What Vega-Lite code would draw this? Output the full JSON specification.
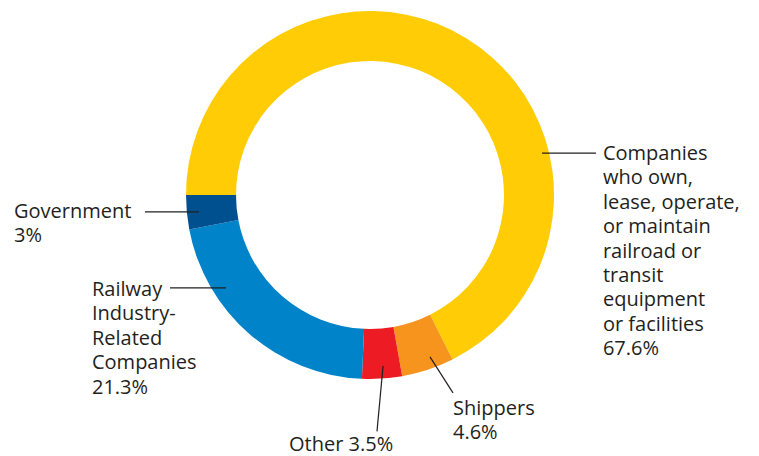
{
  "$schema": "https://vega.github.io/schema/vega-lite/v6.json",
  "width": 740,
  "height": 390,
  "autosize": {"type": "none"},
  "padding": {"left": 0, "top": 0, "right": 19, "bottom": 66},
  "background": "white",
  "config": {"view": {"stroke": null}},
  "datasets": {
    "slices": [
      {"category": "Companies who own, lease, operate, or maintain railroad or transit equipment or facilities", "share": 67.6, "order": 1},
      {"category": "Shippers", "share": 4.6, "order": 2},
      {"category": "Other", "share": 3.5, "order": 3},
      {"category": "Railway Industry-Related Companies", "share": 21.3, "order": 4},
      {"category": "Government", "share": 3.0, "order": 5}
    ],
    "labels": [
      {"label": "Companies\nwho own,\nlease, operate,\nor maintain\nrailroad or\ntransit\nequipment\nor facilities\n67.6%", "lx": 126.6, "ly": 19.0, "ax": 93.5, "ay": 22.8, "bx": 122.8, "by": 22.8},
      {"label": "Government\n3%", "lx": -193.5, "ly": -12.5, "ax": -122.3, "ay": -9.2, "bx": -92.9, "by": -9.2},
      {"label": "Railway\nIndustry-\nRelated\nCompanies\n21.3%", "lx": -151.1, "ly": -54.9, "ax": -108.7, "ay": -50.5, "bx": -78.3, "by": -50.5},
      {"label": "Other 3.5%", "lx": -44.0, "ly": -138.9, "ax": 7.1, "ay": -92.9, "bx": 3.8, "by": -128.5},
      {"label": "Shippers\n4.6%", "lx": 45.1, "ly": -119.6, "ax": 32.6, "ay": -88.0, "bx": 45.1, "by": -107.6}
    ]
  },
  "layer": [
    {
      "data": {"name": "slices"},
      "mark": {"type": "arc", "outerRadius": 184, "innerRadius": 134, "stroke": null},
      "encoding": {
        "theta": {"field": "share", "type": "quantitative", "stack": true, "scale": {"range": [4.71239, 10.99557]}},
        "order": {"field": "order", "type": "quantitative"},
        "color": {
          "field": "category", "type": "nominal", "legend": null,
          "scale": {
            "domain": ["Companies who own, lease, operate, or maintain railroad or transit equipment or facilities", "Shippers", "Other", "Railway Industry-Related Companies", "Government"],
            "range": ["#FFCC05", "#F7941D", "#ED1C24", "#0083C9", "#00508F"]
          }
        }
      }
    },
    {
      "data": {"name": "labels"},
      "mark": {"type": "rule", "color": "#231F20", "strokeWidth": 1.2},
      "encoding": {
        "x": {"field": "ax", "type": "quantitative", "scale": {"domain": [-201.1, 201.1]}, "axis": null},
        "y": {"field": "ay", "type": "quantitative", "scale": {"domain": [-106, 106]}, "axis": null},
        "x2": {"field": "bx"},
        "y2": {"field": "by"}
      }
    },
    {
      "data": {"name": "labels"},
      "mark": {"type": "text", "align": "left", "baseline": "alphabetic", "lineBreak": "\n", "lineHeight": 24.4, "font": "Open Sans", "fontSize": 20, "color": "#231F20"},
      "encoding": {
        "x": {"field": "lx", "type": "quantitative", "scale": {"domain": [-201.1, 201.1]}, "axis": null},
        "y": {"field": "ly", "type": "quantitative", "scale": {"domain": [-106, 106]}, "axis": null},
        "text": {"field": "label"}
      }
    }
  ]
}
